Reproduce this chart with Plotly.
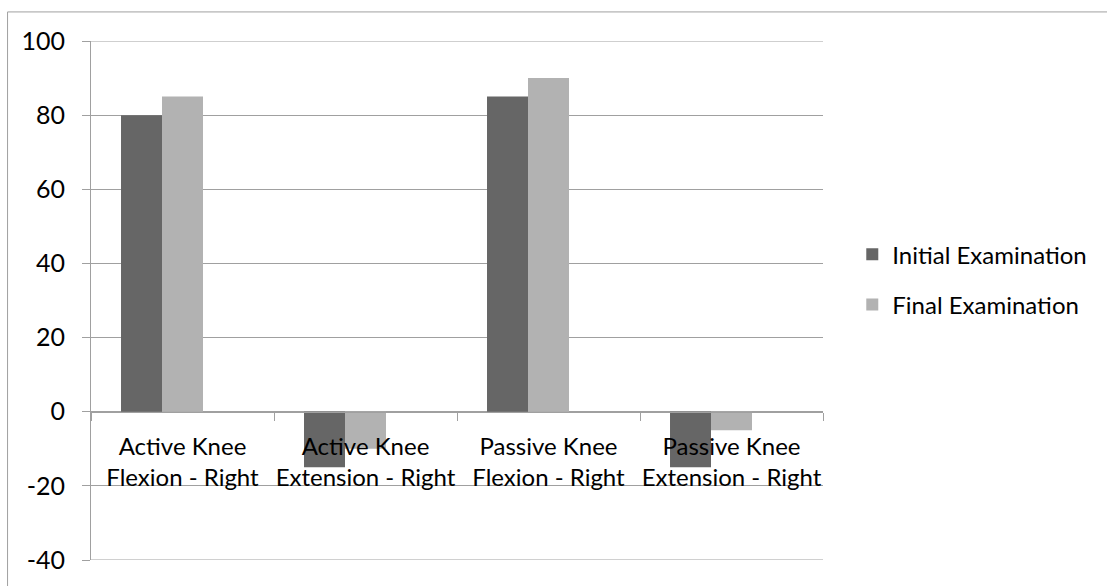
import plotly.graph_objects as go

# Range-of-motion measurements (degrees)
categories = [
    "Active Knee Flexion - Right",
    "Active Knee Extension - Right",
    "Passive Knee Flexion - Right",
    "Passive Knee Extension - Right",
]
initial_exam = [80, -15, 85, -15]
final_exam = [85, -10, 90, -5]
y_ticks = [-40, -20, 0, 20, 40, 60, 80, 100]
y_tick_labels = ["-40", "-20", "0", "20", "40", "60", "80", "100"]

# Two-line category labels
tick_text = [c.replace(" Flexion", "<br>Flexion").replace(" Extension", "<br>Extension") for c in categories]

FONT = "Lato, 'Open Sans', sans-serif"
GRID = "#a0a0a0"

# Three slots per category; the two series fill the first two
slot_w = 0.224
gap = (1 - 3 * slot_w) / 2

fig = go.Figure()
fig.add_trace(go.Bar(
    x=categories, y=initial_exam, name="Initial Examination",
    marker=dict(color="#666666", line=dict(width=0)),
    width=slot_w, offset=-0.5 + gap, legendgroup="a",
))
fig.add_trace(go.Bar(
    x=categories, y=final_exam, name="Final Examination",
    marker=dict(color="#b2b2b2", line=dict(width=0)),
    width=slot_w, offset=-0.5 + gap + slot_w, legendgroup="b",
))

y_min, y_max = y_ticks[0], y_ticks[-1]

# Gridlines at both ends of the value range, plus the outer chart frame
shapes = [
    dict(type="line", xref="paper", yref="y", x0=0, x1=1, y0=v, y1=v,
         line=dict(color=GRID, width=1), layer="below")
    for v in (y_min, y_max)
]
shapes.append(dict(
    type="rect", xref="paper", yref="paper",
    x0=-0.114, x1=1.6, y0=-0.3, y1=1.056,
    line=dict(color="#a0a0a0", width=1), fillcolor="rgba(0,0,0,0)", layer="below",
))

fig.update_layout(
    width=1107, height=586,
    margin=dict(l=91, r=284, t=41, b=26),
    paper_bgcolor="white", plot_bgcolor="white",
    font=dict(family=FONT, size=24, color="black"),
    barmode="overlay",
    showlegend=True,
    legend=dict(
        x=1.04, xanchor="left", y=0.54, yanchor="middle",
        font=dict(size=24), tracegroupgap=16,
        traceorder="grouped", itemwidth=30,
    ),
    xaxis=dict(
        type="category", tickmode="array", tickvals=categories, ticktext=tick_text,
        tickangle=0,
        anchor="free", position=(0 - y_min) / (y_max - y_min),
        showline=True, linecolor=GRID, linewidth=1,
        ticks="outside", tickson="boundaries", ticklen=8, tickcolor=GRID,
        showgrid=False, ticklabelstandoff=13, tickfont=dict(size=24),
    ),
    yaxis=dict(
        range=[y_min, y_max], tickmode="array", tickvals=y_ticks, ticktext=y_tick_labels,
        showgrid=True, gridcolor=GRID, gridwidth=1, zeroline=False,
        showline=True, linecolor=GRID, linewidth=1,
        ticks="outside", ticklen=8, tickcolor=GRID,
        ticklabelstandoff=12, tickfont=dict(size=25),
    ),
    shapes=shapes,
)

fig.write_html("out.html")
